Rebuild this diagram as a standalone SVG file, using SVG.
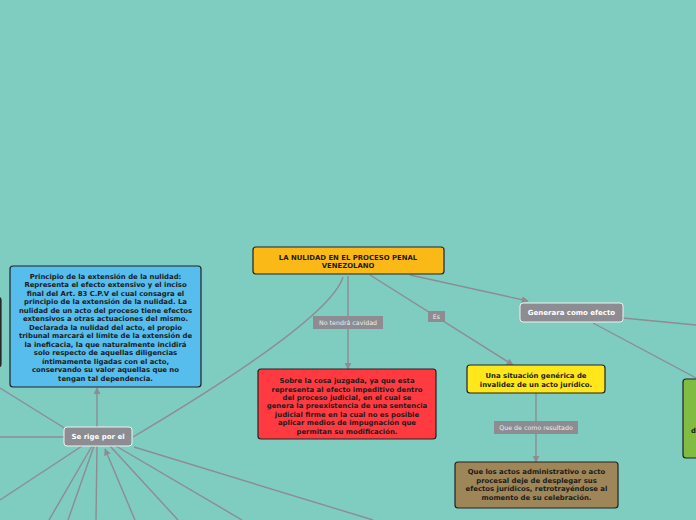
<svg xmlns="http://www.w3.org/2000/svg" width="696" height="520" viewBox="0 0 696 520">
<defs>
<marker id="arr" viewBox="0 0 10 10" refX="9" refY="5" markerWidth="7" markerHeight="7" markerUnits="userSpaceOnUse" orient="auto"><path d="M0,0 L10,5 L0,10 z" fill="#8f8b93"/></marker>
<style>
.ln{fill:none;stroke:#8f8b93;stroke-width:1.4}
.box{stroke:#222;stroke-width:1.2}
.t{font-family:"DejaVu Sans",Verdana,sans-serif;font-weight:bold;font-size:6.9px;fill:#1b1b1b;text-anchor:middle}
.g{fill:#8c8c92;stroke:#f2f2f2;stroke-width:1}
.gt{font-family:"DejaVu Sans",Verdana,sans-serif;font-weight:bold;font-size:7px;fill:#fff;text-anchor:middle}
.lb{fill:#8c8c92}
.lt{font-family:"DejaVu Sans",Verdana,sans-serif;font-size:6.3px;fill:#eee;text-anchor:middle}
</style>
</defs>
<rect width="696" height="520" fill="#7ecdc0"/>
<g id="connectors">
<path class="ln" d="M348,276 L348,369" marker-end="url(#arr)"/>
<path class="ln" d="M370,275 L513,365" marker-end="url(#arr)"/>
<path class="ln" d="M410,275 L528,301" marker-end="url(#arr)"/>
<path class="ln" d="M343,277 Q330,320 133,437"/>
<path class="ln" d="M97,427 L97,388" marker-end="url(#arr)"/>
<path class="ln" d="M623,318 L696,325"/>
<path class="ln" d="M593,323 L696,378"/>
<path class="ln" d="M536,393 L536,462" marker-end="url(#arr)"/>
<path class="ln" d="M0,388 L66,429"/>
<path class="ln" d="M0,437 L64,437"/>
<path class="ln" d="M82,446 L0,500"/>
<path class="ln" d="M92,446 L49,520"/>
<path class="ln" d="M94,446 L68,520"/>
<path class="ln" d="M97,446 L96,520"/>
<path class="ln" d="M135,520 L105,449" marker-end="url(#arr)"/>
<path class="ln" d="M110,446 L178,520"/>
<path class="ln" d="M116,446 L242,520"/>
<path class="ln" d="M134,447 L373,520"/>
<g id="lbl1"><rect class="lb" x="313" y="316" width="70" height="13"/><text class="lt" x="348" y="324.8">No tendrá cavidad</text></g>
<g id="lbl2"><rect class="lb" x="428" y="311" width="17" height="11"/><text class="lt" x="436.5" y="318.8">Es</text></g>
<g id="lbl3"><rect class="lb" x="494" y="421" width="84" height="13"/><text class="lt" x="536" y="429.8">Que de como resultado</text></g>
</g>
<g id="left-node"><rect class="box" x="-60" y="297" width="61" height="70" rx="3" fill="#333"/></g>
<g id="main"><rect class="box" x="253" y="247" width="191" height="27" rx="3" fill="#fbb917"/>
<text class="t" x="348" y="259.7">LA NULIDAD EN EL PROCESO PENAL</text>
<text class="t" x="348" y="267.5">VENEZOLANO</text></g>
<g id="generara"><rect class="g" x="520" y="303" width="103" height="19" rx="3"/><text class="gt" x="571.5" y="315">Generara como efecto</text></g>
<g id="serige"><rect class="g" x="64" y="427" width="68" height="19" rx="3"/><text class="gt" x="98" y="439">Se rige por el</text></g>
<g id="yellow"><rect class="box" x="467" y="365" width="138" height="28" rx="3" fill="#ffe71a"/>
<text class="t" x="536" y="378.2">Una situación genérica de</text>
<text class="t" x="536" y="386.8">invalidez de un acto jurídico.</text></g>
<g id="brown"><rect class="box" x="455" y="462" width="163" height="46" rx="3" fill="#9e8658"/>
<text class="t" x="536.5" y="474.2">Que los actos administrativo o acto</text>
<text class="t" x="536.5" y="482.6">procesal deje de desplegar sus</text>
<text class="t" x="536.5" y="491.2">efectos jurídicos, retrotrayéndose al</text>
<text class="t" x="536.5" y="499.6">momento de su celebración.</text></g>
<g id="red"><rect class="box" x="258" y="369" width="178" height="70" rx="3" fill="#ff3b41"/>
<text class="t" x="347" y="383.2">Sobre la cosa juzgada, ya que esta</text>
<text class="t" x="347" y="391.6">representa al efecto impeditivo dentro</text>
<text class="t" x="347" y="400">del proceso judicial,  en el cual se</text>
<text class="t" x="347" y="408.4">genera la preexistencia de una sentencia</text>
<text class="t" x="347" y="416.8">judicial firme  en la cual no es posible</text>
<text class="t" x="347" y="425.2">aplicar medios de impugnación que</text>
<text class="t" x="347" y="433.6">permitan su modificación.</text></g>
<g id="blue"><rect class="box" x="10" y="266" width="191" height="121" rx="3" fill="#56bdec"/>
<text class="t" x="105.5" y="278.6">Principio de la extensión de la nulidad:</text>
<text class="t" x="105.5" y="287.1">Representa el efecto extensivo y el inciso</text>
<text class="t" x="105.5" y="295.6">final del Art. 83 C.P.V el cual consagra el</text>
<text class="t" x="105.5" y="304.1">principio de la extensión de la nulidad. La</text>
<text class="t" x="105.5" y="312.6">nulidad de un acto del proceso tiene efectos</text>
<text class="t" x="105.5" y="321.1">extensivos a otras actuaciones del mismo.</text>
<text class="t" x="105.5" y="329.6">Declarada la nulidad del acto, el propio</text>
<text class="t" x="105.5" y="338.1">tribunal marcará el límite de la extensión de</text>
<text class="t" x="105.5" y="346.6">la ineficacia, la que naturalmente incidirá</text>
<text class="t" x="105.5" y="355.1">solo respecto de aquellas diligencias</text>
<text class="t" x="105.5" y="363.6">íntimamente ligadas con el acto,</text>
<text class="t" x="105.5" y="372.1">conservando su valor aquellas que no</text>
<text class="t" x="105.5" y="380.6">tengan tal dependencia.</text></g>
<g id="green"><rect class="box" x="683" y="379" width="60" height="79" rx="3" fill="#80bc42"/>
<text class="t" x="691" y="432.7" style="text-anchor:start">d</text></g>
</svg>
